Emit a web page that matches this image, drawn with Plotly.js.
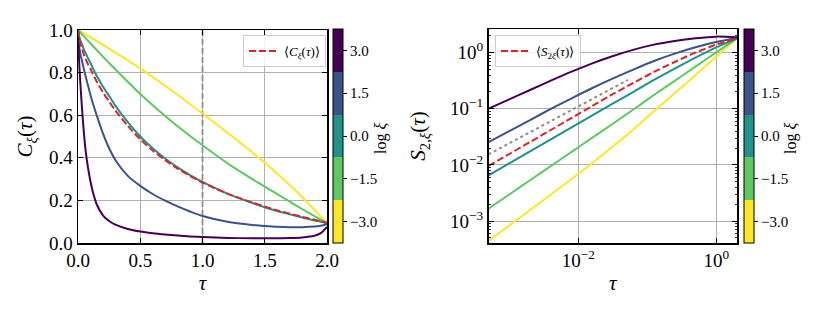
<!DOCTYPE html>
<html><head><meta charset="utf-8">
<script src="https://cdn.plot.ly/plotly-3.0.1.min.js"></script>
<style>html,body{margin:0;padding:0;background:#fff}</style>
</head><body><div id="chart" style="width:830px;height:312px"></div>
<script>
// ---------- left panel: C_xi(tau) ----------
const tauL = [0, 0.01, 0.02, 0.03, 0.04, 0.05, 0.06, 0.08, 0.1, 0.12, 0.15, 0.2, 0.25, 0.3, 0.4, 0.5, 0.6, 0.7, 0.8, 0.9, 1.0, 1.2, 1.4, 1.5, 1.6, 1.7, 1.8, 1.9, 1.95, 2.0];
const cPurple = [1.0, 0.84, 0.74, 0.65, 0.57, 0.50, 0.44, 0.355, 0.29, 0.238, 0.182, 0.13, 0.103, 0.086, 0.066, 0.054, 0.046, 0.040, 0.035, 0.031, 0.028, 0.024, 0.022, 0.022, 0.022, 0.023, 0.026, 0.034, 0.046, 0.075];
const cBlue   = [1.0, 0.92, 0.885, 0.86, 0.835, 0.81, 0.785, 0.74, 0.695, 0.655, 0.60, 0.515, 0.445, 0.39, 0.315, 0.268, 0.23, 0.199, 0.172, 0.148, 0.127, 0.10, 0.085, 0.08, 0.076, 0.074, 0.074, 0.077, 0.081, 0.088];
const cTeal   = [1.0, 0.97, 0.95, 0.935, 0.92, 0.905, 0.893, 0.868, 0.845, 0.82, 0.785, 0.735, 0.69, 0.645, 0.567, 0.50, 0.445, 0.397, 0.355, 0.319, 0.287, 0.232, 0.188, 0.168, 0.15, 0.135, 0.12, 0.106, 0.10, 0.093];
const cMean   = [1.0, 0.96, 0.935, 0.915, 0.897, 0.88, 0.866, 0.84, 0.818, 0.793, 0.758, 0.708, 0.664, 0.622, 0.55, 0.487, 0.434, 0.389, 0.349, 0.315, 0.284, 0.232, 0.19, 0.171, 0.153, 0.138, 0.123, 0.109, 0.102, 0.095];
const tauCoarse = [0, 0.25, 0.5, 0.75, 1.0, 1.25, 1.5, 1.75, 2.0];
const cGreen  = [1.0, 0.845, 0.70, 0.572, 0.459, 0.355, 0.265, 0.177, 0.093];
const cYellow = [1.0, 0.913, 0.82, 0.717, 0.608, 0.495, 0.377, 0.245, 0.093];
const tauMark = [1, 1];
const cMark = [0, 1];

// ---------- right panel: S_2,xi(tau) ----------
const tauR = [0.0005, 0.001, 0.002, 0.004, 0.008, 0.016, 0.032, 0.064, 0.125, 0.25, 0.5, 1.0, 2.0];
const sPurple = [0.1006, 0.1475, 0.2163, 0.3172, 0.459, 0.6462, 0.8732, 1.133, 1.391, 1.616, 1.804, 1.931, 1.879];
const sBlue   = [0.02556, 0.04015, 0.0630, 0.0992, 0.1537, 0.2349, 0.3492, 0.5053, 0.7112, 0.9611, 1.246, 1.551, 1.828];
const sTeal   = [0.006516, 0.01066, 0.01745, 0.02856, 0.04674, 0.0765, 0.1252, 0.2020, 0.3263, 0.5192, 0.8156, 1.246, 1.803];
const sMean   = [0.009559, 0.01564, 0.02559, 0.04188, 0.06855, 0.1122, 0.1836, 0.2922, 0.4529, 0.6828, 1.0014, 1.391, 1.803];
const sGreen  = [0.00166, 0.002972, 0.005322, 0.009532, 0.01707, 0.03058, 0.05477, 0.0981, 0.1757, 0.3147, 0.5637, 1.0097, 1.803];
const sYellow = [0.00044, 0.000831, 0.00157, 0.002968, 0.005607, 0.01081, 0.02143, 0.04365, 0.0901, 0.1887, 0.4004, 0.8499, 1.803];
const refTau = [0.0005, 0.0523];
const refS   = [0.0154, 0.326];

// ---------- colour bar / ticks ----------
const logXi = [-3.0, -1.5, 0.0, 1.5, 3.0];
const cbTickText = ['\u22123.0', '\u22121.5', '0.0', '1.5', '3.0'];
const xiColors = ['#fde725', '#5ec962', '#21918c', '#3b528b', '#440154'];
const rxTickVals = [0.01, 1];
const rxTickText = ['10<sup>\u22122</sup>', '10<sup>0</sup>'];
const ryTickVals = [0.001, 0.01, 0.1, 1];
const ryTickText = ['10<sup>\u22123</sup>', '10<sup>\u22122</sup>', '10<sup>\u22121</sup>', '10<sup>0</sup>'];

const FONT = 'Liberation Serif';
const W = 830, H = 312;

const cscale = [];
xiColors.forEach((c, i) => { cscale.push([i / 5, c]); cscale.push([(i + 1) / 5, c]); });

function line(x, y, color, xa, ya, extra) {
  return Object.assign({type: 'scatter', mode: 'lines', x: x, y: y, xaxis: xa, yaxis: ya,
    line: {color: color, width: 2, shape: 'spline', smoothing: 0.8}, showlegend: false, hoverinfo: 'skip'}, extra || {});
}
function cbar(xa, ya, xpx) {
  return {type: 'scatter', mode: 'markers', xaxis: xa, yaxis: ya,
    x: logXi.map(() => (xa === 'x' ? tauMark[0] : refTau[0])), y: logXi.map(() => (xa === 'x' ? cMark[1] : refS[0])),
    marker: {size: 1, opacity: 0, color: logXi, colorscale: cscale, cmin: -3.75, cmax: 3.75, showscale: true,
      colorbar: {x: xpx / W, xanchor: 'left', xref: 'paper', xpad: 0, y: 1 - 136 / H, yanchor: 'middle', ypad: 0,
        len: 214 / H, lenmode: 'fraction', thickness: 10, thicknessmode: 'pixels',
        outlinewidth: 1, outlinecolor: 'black', tickvals: logXi, ticktext: cbTickText,
        ticks: 'outside', ticklen: 4, tickcolor: 'black',
        tickfont: {family: FONT, size: 15, color: 'black'}}},
    showlegend: false, hoverinfo: 'skip'};
}

const traces = [
  line(tauMark, cMark, '#909090', 'x', 'y', {line: {color: '#909090', width: 1.8, dash: '6px,3px'}}),
  line(tauCoarse, cYellow, xiColors[0], 'x', 'y'),
  line(tauCoarse, cGreen, xiColors[1], 'x', 'y'),
  line(tauL, cTeal, xiColors[2], 'x', 'y'),
  line(tauL, cBlue, xiColors[3], 'x', 'y'),
  line(tauL, cPurple, xiColors[4], 'x', 'y'),
  line(tauL, cMean, '#d62728', 'x', 'y', {line: {color: '#d62728', width: 2, dash: '7px,3px', shape: 'spline', smoothing: 0.8},
    showlegend: true, legend: 'legend', name: '\u27e8<i>C</i><sub><i>\u03be</i></sub>(<i>\u03c4</i>)\u27e9'}),
  cbar('x', 'y', 333),

  line(tauR, sYellow, xiColors[0], 'x2', 'y2'),
  line(tauR, sGreen, xiColors[1], 'x2', 'y2'),
  line(tauR, sTeal, xiColors[2], 'x2', 'y2'),
  line(tauR, sBlue, xiColors[3], 'x2', 'y2'),
  line(tauR, sPurple, xiColors[4], 'x2', 'y2'),
  line(refTau, refS, '#8c8c8c', 'x2', 'y2', {line: {color: '#8c8c8c', width: 2, dash: 'dot'}}),
  line(tauR, sMean, '#d62728', 'x2', 'y2', {line: {color: '#d62728', width: 2, dash: '7px,3px', shape: 'spline', smoothing: 0.8},
    showlegend: true, legend: 'legend2', name: '\u27e8<i>S</i><sub>2<i>\u03be</i></sub>(<i>\u03c4</i>)\u27e9'}),
  cbar('x2', 'y2', 744)
];

const axBase = {showgrid: true, gridcolor: '#b0b0b0', gridwidth: 1, showline: true, linecolor: 'black', linewidth: 1.5,
  mirror: 'allticks', ticks: 'inside', ticklen: 5, tickwidth: 1, tickcolor: 'black', zeroline: false,
  tickfont: {family: FONT, size: 19, color: 'black'}, fixedrange: true};
const yDom = [1 - 243 / H, 1 - 30 / H];

const cbTitle = (xpx) => ({xref: 'paper', yref: 'paper', x: xpx / W, y: 1 - 139 / H, xanchor: 'center', yanchor: 'middle',
  text: 'log <i>\u03be</i>', textangle: -90, showarrow: false, font: {family: FONT, size: 16, color: 'black'}});

const layout = {
  width: W, height: H, margin: {l: 0, r: 0, t: 0, b: 0}, paper_bgcolor: 'white', plot_bgcolor: 'white',
  font: {family: FONT, color: 'black'},
  xaxis: Object.assign({}, axBase, {domain: [78 / W, 327 / W], anchor: 'y', range: [0, 2], dtick: 0.5, tick0: 0, tickformat: '.1f',
    title: {text: '<i>\u03c4</i>', font: {family: FONT, size: 21}, standoff: 5}}),
  yaxis: Object.assign({}, axBase, {domain: yDom, anchor: 'x', range: [0, 1], dtick: 0.2, tick0: 0, tickformat: '.1f',
    title: {text: '<i>C</i><sub><i>\u03be</i></sub>(<i>\u03c4</i>)', font: {family: FONT, size: 21}, standoff: 10}}),
  xaxis2: Object.assign({}, axBase, {domain: [488.5 / W, 737 / W], anchor: 'y2', type: 'log', range: [Math.log10(0.0005), Math.log10(2)],
    tickmode: 'array', tickvals: rxTickVals, ticktext: rxTickText,
    title: {text: '<i>\u03c4</i>', font: {family: FONT, size: 21}, standoff: 5}}),
  yaxis2: Object.assign({}, axBase, {domain: [1 - 243 / H, 1 - 29 / H], anchor: 'x2', type: 'log', range: [-3.392, 0.422],
    tickmode: 'array', tickvals: ryTickVals, ticktext: ryTickText,
    minor: {dtick: 'D1', ticks: 'inside', ticklen: 2.5, tickcolor: 'black', tickwidth: 0.8, showgrid: false},
    title: {text: '<i>S</i><sub>2,<i>\u03be</i></sub>(<i>\u03c4</i>)', font: {family: FONT, size: 21}, standoff: 18}}),
  legend: {x: 243 / W, xanchor: 'left', y: 1 - 35 / H, yanchor: 'top', bgcolor: 'rgba(255,255,255,0.85)', bordercolor: '#cccccc', borderwidth: 1,
    font: {family: FONT, size: 13, color: 'black'}, itemwidth: 30},
  legend2: {x: 495 / W, xanchor: 'left', y: 1 - 35 / H, yanchor: 'top', bgcolor: 'rgba(255,255,255,0.85)', bordercolor: '#cccccc', borderwidth: 1,
    font: {family: FONT, size: 13, color: 'black'}, itemwidth: 30},
  annotations: [cbTitle(381), cbTitle(791)]
};

Plotly.newPlot('chart', traces, layout, {displayModeBar: false, staticPlot: true});
</script>
</body></html>
